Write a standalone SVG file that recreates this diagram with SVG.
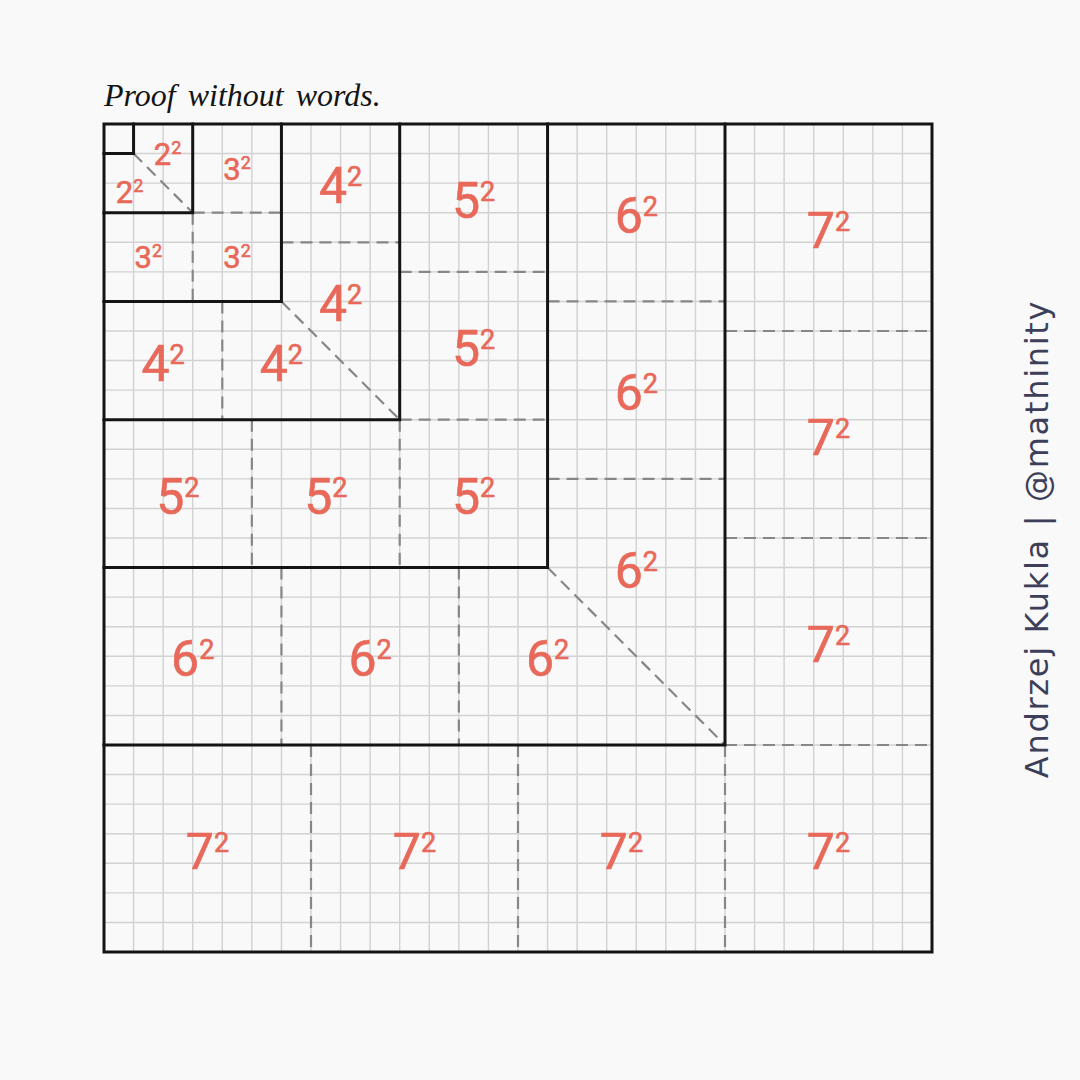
<svg xmlns="http://www.w3.org/2000/svg" width="1080" height="1080" viewBox="0 0 1080 1080">
  <style>
    .grid { stroke: #d2d2d2; stroke-width: 1.4; fill: none; }
    .solid { stroke: #141414; stroke-width: 3; fill: none; stroke-linecap: square; }
    .dash { stroke: #878787; stroke-width: 2.2; fill: none; stroke-dasharray: 12 7; }
    .lbl { fill: #e8695a; font-family: Roboto, "Liberation Sans", sans-serif; text-anchor: middle; stroke: #e8695a; stroke-width: 0.6; }
    .big { font-size: 50px; }
    .big .sup { font-size: 27px; }
    .small { font-size: 31px; }
    .small .sup { font-size: 18px; }
    .title { font-family: "Liberation Serif", serif; font-style: italic; font-size: 32px; word-spacing: 4px; fill: #141414; }
    .credit { font-family: "DejaVu Sans", sans-serif; font-size: 32px; letter-spacing: 1.7px; fill: #3d3f5a; text-anchor: middle; }
  </style>
  <rect width="1080" height="1080" fill="#f9f9f9"/>
  <text class="title" x="104" y="106">Proof without words.</text>

  <g id="grid">
    <rect x="104" y="124" width="828" height="828" fill="#f9f9f9"/>
    <path class="grid" d="M133.57,124V952M163.14,124V952M192.71,124V952M222.29,124V952M251.86,124V952M281.43,124V952M311,124V952M340.57,124V952M370.14,124V952M399.71,124V952M429.29,124V952M458.86,124V952M488.43,124V952M518,124V952M547.57,124V952M577.14,124V952M606.71,124V952M636.29,124V952M665.86,124V952M695.43,124V952M725,124V952M754.57,124V952M784.14,124V952M813.71,124V952M843.29,124V952M872.86,124V952M902.43,124V952
      M104,153.57H932M104,183.14H932M104,212.71H932M104,242.29H932M104,271.86H932M104,301.43H932M104,331H932M104,360.57H932M104,390.14H932M104,419.71H932M104,449.29H932M104,478.86H932M104,508.43H932M104,538H932M104,567.57H932M104,597.14H932M104,626.71H932M104,656.29H932M104,685.86H932M104,715.43H932M104,745H932M104,774.57H932M104,804.14H932M104,833.71H932M104,863.29H932M104,892.86H932M104,922.43H932"/>
  </g>

  <g id="connectors">
    <path class="dash" d="M133.57,153.57L192.71,212.71"/>
    <path class="dash" d="M192.71,212.71H281.43M192.71,212.71V301.43"/>
    <path class="dash" d="M281.43,242.29H399.71M222.29,301.43V419.71M281.43,301.43L399.71,419.71"/>
    <path class="dash" d="M399.71,271.86H547.57M399.71,419.71H547.57M251.86,419.71V567.57M399.71,419.71V567.57"/>
    <path class="dash" d="M547.57,301.43H725M547.57,478.86H725M281.43,567.57V745M458.86,567.57V745M547.57,567.57L725,745"/>
    <path class="dash" d="M725,331H932M725,538H932M725,745H932M311,745V952M518,745V952M725,745V952"/>
  </g>

  <g id="outlines">
    <path class="solid" d="M133.57,124V153.57H104"/>
    <path class="solid" d="M192.71,124V212.71H104"/>
    <path class="solid" d="M281.43,124V301.43H104"/>
    <path class="solid" d="M399.71,124V419.71H104"/>
    <path class="solid" d="M547.57,124V567.57H104"/>
    <path class="solid" d="M725,124V745H104"/>
    <rect class="solid" x="104" y="124" width="828" height="828"/>
  </g>

  <g id="layer-2" class="lbl small">
    <text x="167.5" y="165">2<tspan class="sup" dy="-11">2</tspan></text>
    <text x="129.5" y="203">2<tspan class="sup" dy="-11">2</tspan></text>
  </g>
  <g id="layer-3" class="lbl small">
    <text x="237" y="179.5">3<tspan class="sup" dy="-11">2</tspan></text>
    <text x="148.4" y="268">3<tspan class="sup" dy="-11">2</tspan></text>
    <text x="237" y="268">3<tspan class="sup" dy="-11">2</tspan></text>
  </g>
  <g id="layer-4" class="lbl big">
    <text x="340.6" y="203.1">4<tspan class="sup" dy="-17">2</tspan></text>
    <text x="340.6" y="321.4">4<tspan class="sup" dy="-17">2</tspan></text>
    <text x="281.4" y="380.6">4<tspan class="sup" dy="-17">2</tspan></text>
    <text x="163.1" y="380.6">4<tspan class="sup" dy="-17">2</tspan></text>
  </g>
  <g id="layer-5" class="lbl big">
    <text x="473.6" y="217.9">5<tspan class="sup" dy="-17">2</tspan></text>
    <text x="473.6" y="365.8">5<tspan class="sup" dy="-17">2</tspan></text>
    <text x="473.6" y="513.6">5<tspan class="sup" dy="-17">2</tspan></text>
    <text x="177.9" y="513.6">5<tspan class="sup" dy="-17">2</tspan></text>
    <text x="325.8" y="513.6">5<tspan class="sup" dy="-17">2</tspan></text>
  </g>
  <g id="layer-6" class="lbl big">
    <text x="636.3" y="232.7">6<tspan class="sup" dy="-17">2</tspan></text>
    <text x="636.3" y="410.1">6<tspan class="sup" dy="-17">2</tspan></text>
    <text x="636.3" y="587.6">6<tspan class="sup" dy="-17">2</tspan></text>
    <text x="192.7" y="676.3">6<tspan class="sup" dy="-17">2</tspan></text>
    <text x="370.1" y="676.3">6<tspan class="sup" dy="-17">2</tspan></text>
    <text x="547.6" y="676.3">6<tspan class="sup" dy="-17">2</tspan></text>
  </g>
  <g id="layer-7" class="lbl big">
    <text x="828.5" y="247.5">7<tspan class="sup" dy="-17">2</tspan></text>
    <text x="828.5" y="454.5">7<tspan class="sup" dy="-17">2</tspan></text>
    <text x="828.5" y="661.5">7<tspan class="sup" dy="-17">2</tspan></text>
    <text x="828.5" y="868.5">7<tspan class="sup" dy="-17">2</tspan></text>
    <text x="207.5" y="868.5">7<tspan class="sup" dy="-17">2</tspan></text>
    <text x="414.5" y="868.5">7<tspan class="sup" dy="-17">2</tspan></text>
    <text x="621.5" y="868.5">7<tspan class="sup" dy="-17">2</tspan></text>
  </g>

  <text class="credit" transform="translate(1048,539) rotate(-90)">Andrzej Kukla | @mathinity</text>
</svg>
